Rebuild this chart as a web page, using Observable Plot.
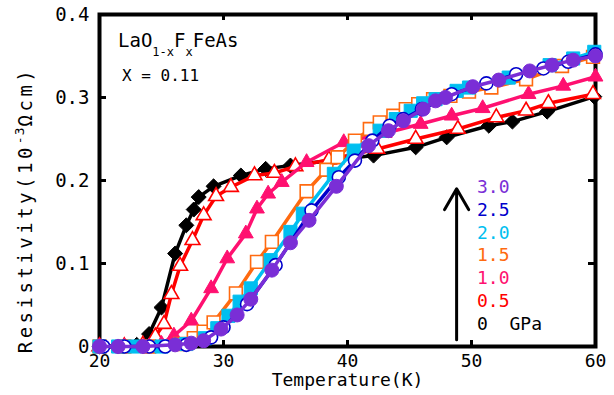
<!DOCTYPE html>
<html><head><meta charset="utf-8">
<script src="https://cdn.jsdelivr.net/npm/d3@7"></script>
<script src="https://cdn.jsdelivr.net/npm/@observablehq/plot@0.6"></script>
<style>body{margin:0;background:#fff} svg{display:block}</style>
</head><body><div id="chart"></div>
<script>
// ---- data ----
const pressures = ["0", "0.5", "1.0", "1.5", "2.0", "2.5", "3.0"];
const colors = ["#000000", "#FF0000", "#FF1070", "#FF6A10", "#00BFF0", "#0000CC", "#7A2ED6"];
const xTicks = [20, 30, 40, 50, 60];
const yTicks = [0, 0.1, 0.2, 0.3, 0.4];

const T_0  = [20.0,21.5,23.0,24.0,25.0,26.1,27.0,27.6,28.0,29.2,31.4,33.4,35.4,38.6,42.1,45.5,48.0,51.4,53.3,56.1,59.9];
const R_0  = [0,0,0.002,0.015,0.047,0.112,0.146,0.165,0.180,0.193,0.206,0.214,0.218,0.224,0.230,0.240,0.252,0.266,0.271,0.283,0.301];
const T_05 = [20.0,22.0,23.5,24.5,25.2,25.8,26.5,27.5,28.4,29.4,30.6,32.5,34.1,35.8,38.5,42.4,45.5,48.9,52.0,54.4,56.2,59.8];
const R_05 = [0,0,0.002,0.012,0.027,0.063,0.097,0.128,0.158,0.181,0.192,0.206,0.209,0.217,0.225,0.238,0.250,0.262,0.276,0.284,0.293,0.304];
const T_10 = [20.0,22.0,24.0,25.0,26.0,27.4,29.0,30.3,31.8,32.7,33.6,34.7,36.7,39.7,43.0,45.9,48.4,50.9,54.6,57.4,60.0];
const R_10 = [0,0,0,0.003,0.013,0.031,0.070,0.106,0.136,0.166,0.184,0.198,0.222,0.246,0.257,0.268,0.278,0.287,0.304,0.314,0.325];
const T_15 = [20.0,22.0,24.0,26.5,27.6,28.4,29.2,31.0,32.7,33.9,36.7,38.3,39.2,40.6,41.8,42.6,43.7,44.7,45.7,46.9,48.3,49.8,51.6,54.4,57.3,59.8];
const R_15 = [0,0,0,0.003,0.010,0.018,0.029,0.064,0.102,0.126,0.187,0.213,0.228,0.248,0.262,0.270,0.278,0.286,0.292,0.298,0.302,0.307,0.312,0.322,0.338,0.349];
const T_20 = [20.0,21.5,22.8,25.0,27.0,28.5,29.5,30.4,31.3,32.2,33.8,35.4,36.4,38.9,40.5,42.6,43.9,45.1,46.1,47.1,48.8,49.8,53.0,56.3,58.2,59.9];
const R_20 = [0,0,0,0,0.003,0.010,0.022,0.037,0.054,0.070,0.104,0.138,0.160,0.208,0.236,0.260,0.274,0.284,0.293,0.298,0.308,0.312,0.324,0.339,0.347,0.355];
const T_25 = [20.3,22.0,24.0,25.3,27.0,29.0,30.0,31.9,34.2,37.1,39.3,40.6,42.0,43.4,44.5,46.0,48.4,51.2,53.6,55.8,57.8,60.0];
const R_25 = [0,0,0,0,0.002,0.011,0.023,0.051,0.098,0.164,0.204,0.224,0.248,0.266,0.274,0.286,0.304,0.317,0.328,0.335,0.343,0.352];
const T_30 = [20.0,21.5,23.5,26.1,27.4,28.4,29.8,31.1,32.2,33.9,35.4,36.9,39.1,41.7,43.3,44.5,46.1,47.1,47.9,50.1,52.2,54.7,56.5,58.2,60.0];
const R_30 = [0,0,0,0.002,0.004,0.007,0.021,0.038,0.057,0.092,0.125,0.152,0.193,0.242,0.260,0.272,0.286,0.296,0.300,0.313,0.321,0.332,0.339,0.345,0.350];

const arrowT = [48.8];
const arrowR = [0.008, 0.19];

// ---- build ----
const diamondSq = {draw(ctx, size) { const h = Math.sqrt(size / 2); ctx.moveTo(0, -h); ctx.lineTo(h, 0); ctx.lineTo(0, h); ctx.lineTo(-h, 0); ctx.closePath(); }};
const Ts = [T_0, T_05, T_10, T_15, T_20, T_25, T_30];
const Rs = [R_0, R_05, R_10, R_15, R_20, R_25, R_30];
const styles = [
  {symbol: diamondSq, filled: true, r: 6},
  {symbol: "triangle", filled: false, r: 5.5},
  {symbol: "triangle", filled: true, r: 5.5},
  {symbol: "square", filled: false, r: 7.2},
  {symbol: "square", filled: true, r: 7.4},
  {symbol: "circle", filled: false, r: 6.5},
  {symbol: "circle", filled: true, r: 7}
];

const W = 614, H = 395, mL = 99, mR = 19, mT = 14, mB = 49;
const pw = W - mL - mR, ph = H - mT - mB;

const seriesMarks = [];
pressures.forEach((p, i) => {
  const data = Ts[i].map((t, j) => ({T: t, R: Rs[i][j]}));
  const c = colors[i], s = styles[i];
  seriesMarks.push(Plot.line(data, {x: "T", y: "R", stroke: c, strokeWidth: 3.5}));
  seriesMarks.push(Plot.dot(data, {x: "T", y: "R", symbol: s.symbol, r: s.r,
    fill: s.filled ? c : "white", stroke: c, strokeWidth: s.filled ? 1 : 1.6}));
});

const inner = (arr) => arr.slice(1, -1);

const chart = Plot.plot({
  width: W, height: H,
  marginLeft: mL, marginRight: mR, marginTop: mT, marginBottom: mB,
  x: {domain: [20, 60]},
  y: {domain: [0, 0.4]},
  style: {fontFamily: "DejaVu Sans Mono", background: "white", color: "black"},
  marks: [
    Plot.axisX(xTicks, {tickSize: 0, tickPadding: 8, fontSize: 18, tickFormat: d => String(d), label: null}),
    Plot.axisY(yTicks, {tickSize: 0, tickPadding: 10, fontSize: 19, tickFormat: d => d === 0 ? "0" : d.toFixed(1), label: null}),
    Plot.frame({stroke: "black", strokeWidth: 4}),
    Plot.ruleX(inner(xTicks), {x: d => d, insetTop: ph - 6, stroke: "black", strokeWidth: 3}),
    Plot.ruleX(inner(xTicks), {x: d => d, insetBottom: ph - 6, stroke: "black", strokeWidth: 3}),
    Plot.ruleY(inner(yTicks), {y: d => d, insetRight: pw - 7, stroke: "black", strokeWidth: 3}),
    Plot.ruleY(inner(yTicks), {y: d => d, insetLeft: pw - 7, stroke: "black", strokeWidth: 3}),
    Plot.arrow(arrowT, {x1: d => d, x2: d => d, y1: () => arrowR[0], y2: () => arrowR[1], stroke: "black", strokeWidth: 3, headLength: 12}),
    ...seriesMarks,
    Plot.text(["Temperature(K)"], {frameAnchor: "bottom", dy: 34, text: d => d, fontSize: 18, lineAnchor: "middle"})
  ]
});
document.getElementById("chart").appendChild(chart);

// ---- annotations ----
const svg = d3.select(chart);
const font = "DejaVu Sans Mono";
// y label
const yl = svg.append("text").attr("transform", `translate(32,210) rotate(-90)`)
  .attr("text-anchor", "middle").attr("font-family", font).attr("font-size", 19)
  .attr("letter-spacing", 3.5).attr("fill", "black");
yl.append("tspan").text("Resistivity(10");
yl.append("tspan").attr("dy", -8).attr("font-size", 13).attr("letter-spacing", 1).text("-3");
yl.append("tspan").attr("dy", 8).text("Ωcm)");

// compound label
const cl = svg.append("text").attr("x", 118).attr("y", 47).attr("font-family", font)
  .attr("text-anchor", "start").attr("font-size", 19).attr("fill", "black");
cl.append("tspan").text("LaO");
cl.append("tspan").attr("dy", 9).attr("font-size", 12).text("1-x");
cl.append("tspan").attr("dy", -9).text("F");
cl.append("tspan").attr("dy", 9).attr("font-size", 12).text("x");
cl.append("tspan").attr("dy", -9).text("FeAs");
svg.append("text").attr("x", 122).attr("y", 81).attr("font-family", font)
  .attr("text-anchor", "start").attr("font-size", 16).attr("fill", "black")
  .style("white-space", "pre").text("X = 0.11");

// pressure legend
const order = pressures.map((p, i) => i).reverse();
order.forEach((i, k) => {
  svg.append("text").attr("x", 477).attr("y", 193 + k * 22.8)
    .attr("text-anchor", "start")
    .attr("font-family", font).attr("font-size", 18).attr("fill", colors[i])
    .style("white-space", "pre")
    .text(i === 0 ? "0  GPa" : pressures[i]);
});
</script></body></html>
